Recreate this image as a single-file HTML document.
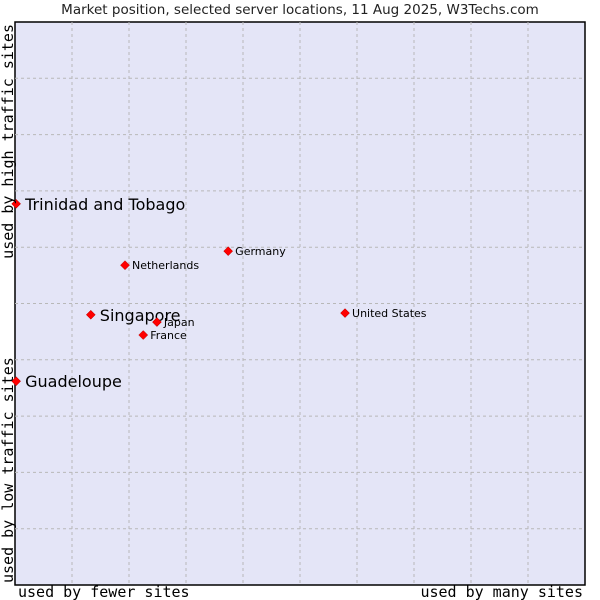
<!DOCTYPE html>
<html><head><meta charset="utf-8"><style>
body{margin:0;background:#fff;width:600px;height:600px;overflow:hidden}
svg{display:block}
</style></head><body>
<svg id="chart" width="600" height="600" xmlns="http://www.w3.org/2000/svg">
<text x="300" y="14" text-anchor="middle" font-family="DejaVu Sans, sans-serif" font-size="13.5" fill="#222">Market position, selected server locations, 11 Aug 2025, W3Techs.com</text>
<rect x="15" y="22" width="570" height="563" fill="#e4e5f7" stroke="#000" stroke-width="1.5"/>
<g id="grid"></g>
<g id="points"></g>
<text x="18" y="597" font-family="DejaVu Sans Mono, monospace" font-size="15" fill="#000">used by fewer sites</text>
<text x="583" y="597" text-anchor="end" font-family="DejaVu Sans Mono, monospace" font-size="15" fill="#000">used by many sites</text>
<text transform="translate(13,24) rotate(-90)" text-anchor="end" font-family="DejaVu Sans Mono, monospace" font-size="15" fill="#000">used by high traffic sites</text>
<text transform="translate(13,583) rotate(-90)" font-family="DejaVu Sans Mono, monospace" font-size="15" fill="#000">used by low traffic sites</text>
</svg>
<script>
const names=["Trinidad and Tobago","Netherlands","Germany","Singapore","Japan","France","United States","Guadeloupe"];
const xVals=[0.2,19.3,37.4,13.3,24.9,22.5,57.9,0.2];
const yVals=[67.7,56.8,59.3,48.0,46.7,44.4,48.3,36.2];
const highlighted=[true,false,false,true,false,false,false,true];
const NS="http://www.w3.org/2000/svg";
const L=15,T=22,W=570,H=563;
function sx(v){return L+v/100*W;}
function sy(v){return T+H-v/100*H;}
const grid=document.getElementById('grid');
for(let i=1;i<10;i++){
  const vx=document.createElementNS(NS,'line');
  
  
  vx.setAttribute('x1',sx(i*10));vx.setAttribute('x2',sx(i*10));
  vx.setAttribute('y1',T);vx.setAttribute('y2',T+H);
  vx.setAttribute('stroke','#b8b8b8');vx.setAttribute('stroke-dasharray','3,3');
  grid.appendChild(vx);
  const hy=document.createElementNS(NS,'line');
  
  
  hy.setAttribute('y1',sy(i*10));hy.setAttribute('y2',sy(i*10));
  hy.setAttribute('x1',L);hy.setAttribute('x2',L+W);
  hy.setAttribute('stroke','#b8b8b8');hy.setAttribute('stroke-dasharray','3,3');
  grid.appendChild(hy);
}
const pts=document.getElementById('points');
names.forEach((n,i)=>{
  const x=sx(xVals[i]),y=sy(yVals[i]);
  const d=document.createElementNS(NS,'path');
  
  
  d.setAttribute('d',`M${x},${y-4.5}L${x+4.5},${y}L${x},${y+4.5}L${x-4.5},${y}Z`);
  d.setAttribute('fill','#ff0000');d.setAttribute('stroke','#b00000');d.setAttribute('stroke-width','0.5');
  pts.appendChild(d);
  const t=document.createElementNS(NS,'text');
  
  
  const big=highlighted[i];
  t.setAttribute('x',x+(big?9:7));
  t.setAttribute('y',y+(big?6:4));
  t.setAttribute('font-family','DejaVu Sans, sans-serif');
  t.setAttribute('font-size',big?'16':'11');
  t.setAttribute('fill','#000');
  t.textContent=n;
  pts.appendChild(t);
});
</script>
</body></html>
